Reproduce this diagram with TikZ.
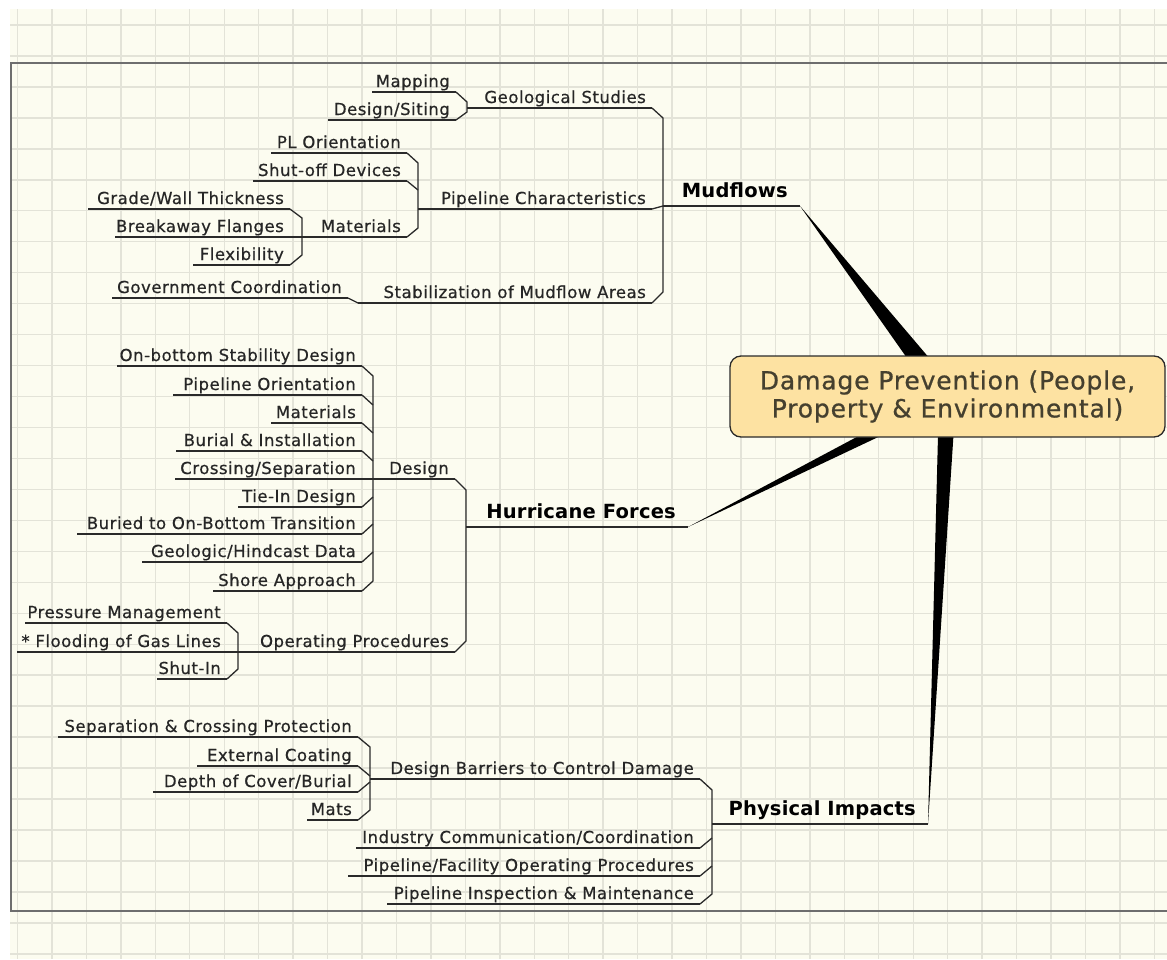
\documentclass[tikz,border=0pt]{standalone}
\usepackage{fontspec}
\setmainfont{DejaVu Sans}
\newfontfamily\lblfont[LetterSpace=3.2, FakeBold=0.6]{DejaVu Sans}
\newfontfamily\ttlfont[LetterSpace=1.0]{DejaVu Sans}
\newfontfamily\rootfont[LetterSpace=3.4, FakeBold=0.8]{DejaVu Sans}
\usetikzlibrary{calc}
\definecolor{bg}{HTML}{FCFCF0}
\definecolor{gridc}{HTML}{E3E3D8}
\definecolor{framec}{HTML}{6E6E6E}
\definecolor{linec}{HTML}{2A2A2A}
\definecolor{txt}{HTML}{262626}
\definecolor{boxfill}{HTML}{FDE2A2}
\definecolor{boxtxt}{HTML}{45402F}
\tikzset{
  lbl/.style={font=\lblfont\fontsize{16.5}{16.5}\selectfont, text=txt, inner sep=0pt, anchor=base east},
  ttl/.style={font=\ttlfont\bfseries\fontsize{19.5}{19.5}\selectfont, text=black, inner sep=0pt, anchor=base east},
  ul/.style={draw=linec, line width=1.3pt, line join=round},
  stub/.style={draw=linec, line width=2.4pt},
  wedge/.style={fill=black},
  rootbox/.style={draw=linec, line width=1.3pt, fill=boxfill, rounded corners=11pt,
    minimum width=435pt, minimum height=81pt, align=center, text=boxtxt,
    font=\rootfont\fontsize{25}{28}\selectfont},
}
\newcommand\mmtopic[5]{%
  \coordinate (#1-l) at (#2,#4);
  \coordinate (#1-r) at (#3,#4);
  \draw[ul] (#1-l) -- (#1-r);
  \node[lbl] (#1) at ($(#1-r)+(-6,-5)$) {#5};}
\newcommand\mmmain[5]{%
  \coordinate (#1-l) at (#2,#4);
  \coordinate (#1-r) at (#3,#4);
  \draw[ul] (#1-l) -- (#1-r);
  \node[ttl] (#1) at ($(#1-r)+(-12,-9)$) {#5};}
\newcommand\mmstub[1]{\draw[stub] (#1-l) -- ++(14,0);}
\begin{document}
\begin{tikzpicture}[x=1pt,y=-1pt]
\useasboundingbox (0,0) rectangle (1167,959);
% background
\fill[white] (0,0) rectangle (1167,959);
\fill[bg] (10,9) rectangle (1167,959);
\begin{scope}
\clip (10,9) rectangle (1167,959);
\foreach \k in {0,...,33} {\draw[gridc, line width=1.4pt] ({17.5+34.45*\k},9) -- ({17.5+34.45*\k},959);}
\foreach \k in {0,...,30} {\draw[gridc, line width=1.4pt] (10,{25+30.96*\k}) -- (1167,{25+30.96*\k});}
\end{scope}
\draw[framec, line width=1.3pt] (1167,63) -- (11,63) -- (11,911) -- (1167,911);

% ---------- Mudflows ----------
\mmmain{mud}{663}{800}{206}{Mudflows}
\mmtopic{geo}{467}{652}{108}{Geological Studies}
\mmtopic{pc}{418}{652}{209}{Pipeline Characteristics}
\mmtopic{stab}{358}{652}{303}{Stabilization of Mudflow Areas}
\draw[ul] (geo-r) -- ($(geo-r)+(11,10)$) -- ($(stab-r)+(11,-11)$) -- (stab-r);
\draw[ul] (pc-r) -- (mud-l);
\mmstub{mud}\mmstub{geo}\mmstub{pc}

\mmtopic{map}{372}{456}{92}{Mapping}
\mmtopic{dsit}{328}{456}{120}{Design/Siting}
\draw[ul] (map-r) -- ($(map-r)+(11,10)$) -- ($(dsit-r)+(11,-8)$) -- (dsit-r);

\mmtopic{plo}{271}{407}{153}{PL Orientation}
\mmtopic{shut}{253}{407}{181}{Shut-off Devices}
\mmtopic{mato}{302}{407}{237}{Materials}
\draw[ul] (plo-r) -- ($(plo-r)+(11,10)$) -- ($(mato-r)+(11,-9)$) -- (mato-r);
\draw[ul] (shut-r) -- ($(shut-r)+(11,9)$);
\mmstub{mato}

\mmtopic{gwt}{88}{290}{209}{Grade/Wall Thickness}
\mmtopic{baf}{115}{290}{237}{Breakaway Flanges}
\mmtopic{flex}{193}{290}{265}{Flexibility}
\draw[ul] (gwt-r) -- ($(gwt-r)+(12,9)$) -- ($(flex-r)+(12,-10)$) -- (flex-r);
\draw[ul] (baf-r) -- (mato-l);

\mmtopic{gov}{112}{348}{298}{Government Coordination}
\draw[ul] (gov-r) -- (stab-l);

% ---------- Hurricane Forces ----------
\mmmain{hur}{466}{688}{527}{Hurricane Forces}
\mmtopic{des}{373}{455}{479}{Design}
\mmtopic{opp}{238}{455}{652}{Operating Procedures}
\draw[ul] (des-r) -- ($(des-r)+(11,11)$) -- ($(opp-r)+(11,-11)$) -- (opp-r);
\mmstub{hur}\mmstub{des}\mmstub{opp}

\mmtopic{obs}{117}{362}{366}{On-bottom Stability Design}
\mmtopic{po}{173}{362}{395}{Pipeline Orientation}
\mmtopic{mat}{271}{362}{423}{Materials}
\mmtopic{bi}{176}{362}{451}{Burial \& Installation}
\mmtopic{cs}{175}{362}{479}{Crossing/Separation}
\mmtopic{tie}{238}{362}{507}{Tie-In Design}
\mmtopic{bob}{77}{362}{534}{Buried to On-Bottom Transition}
\mmtopic{ghd}{142}{362}{562}{Geologic/Hindcast Data}
\mmtopic{sa}{213}{362}{591}{Shore Approach}
\draw[ul] (obs-r) -- ($(obs-r)+(11,10)$) -- ($(sa-r)+(11,-10)$) -- (sa-r);
\draw[ul] (po-r) -- ($(po-r)+(11,10)$);
\draw[ul] (mat-r) -- ($(mat-r)+(11,10)$);
\draw[ul] (bi-r) -- ($(bi-r)+(11,10)$);
\draw[ul] (cs-r) -- (des-l);
\draw[ul] (tie-r) -- ($(tie-r)+(11,-10)$);
\draw[ul] (bob-r) -- ($(bob-r)+(11,-10)$);
\draw[ul] (ghd-r) -- ($(ghd-r)+(11,-10)$);

\mmtopic{pm}{25}{227}{623}{Pressure Management}
\mmtopic{fgl}{17}{227}{652}{* Flooding of Gas Lines}
\mmtopic{shin}{157}{227}{679}{Shut-In}
\draw[ul] (pm-r) -- ($(pm-r)+(11,10)$) -- ($(shin-r)+(11,-10)$) -- (shin-r);
\draw[ul] (fgl-r) -- (opp-l);

% ---------- Physical Impacts ----------
\mmmain{phy}{712}{928}{824}{Physical Impacts}
\mmtopic{dbc}{370}{700}{779}{Design Barriers to Control Damage}
\mmtopic{icc}{356}{700}{848}{Industry Communication/Coordination}
\mmtopic{pfo}{348}{700}{876}{Pipeline/Facility Operating Procedures}
\mmtopic{pim}{387}{700}{904}{Pipeline Inspection \& Maintenance}
\draw[ul] (dbc-r) -- ($(dbc-r)+(12,11)$) -- ($(pim-r)+(12,-10)$) -- (pim-r);
\draw[ul] (icc-r) -- ($(icc-r)+(12,-10)$);
\draw[ul] (pfo-r) -- ($(pfo-r)+(12,-10)$);
\mmstub{phy}\mmstub{dbc}

\mmtopic{scp}{58}{358}{737}{Separation \& Crossing Protection}
\mmtopic{ec}{197}{358}{766}{External Coating}
\mmtopic{dcb}{153}{358}{792}{Depth of Cover/Burial}
\mmtopic{mats}{307}{358}{820}{Mats}
\draw[ul] (scp-r) -- ($(scp-r)+(12,10)$) -- ($(mats-r)+(12,-10)$) -- (mats-r);
\draw[ul] (ec-r) -- ($(ec-r)+(12,10)$);
\draw[ul] (dcb-r) -- ($(dcb-r)+(12,-10)$);

% ---------- Root and wedges ----------
\coordinate (rootc) at (947.5,396.5);
\fill[wedge] (mud-r) -- ($(rootc)!11pt!90:(mud-r)$) -- ($(rootc)!11pt!-90:(mud-r)$) -- cycle;
\fill[wedge] (hur-r) -- ($(rootc)!7pt!90:(hur-r)$) -- ($(rootc)!7pt!-90:(hur-r)$) -- cycle;
\fill[wedge] (phy-r) -- ($(rootc)!8.5pt!90:(phy-r)$) -- ($(rootc)!8.5pt!-90:(phy-r)$) -- cycle;
\node[rootbox] (root) at (rootc) {Damage Prevention (People,\\Property \& Environmental)};
\end{tikzpicture}
\end{document}
